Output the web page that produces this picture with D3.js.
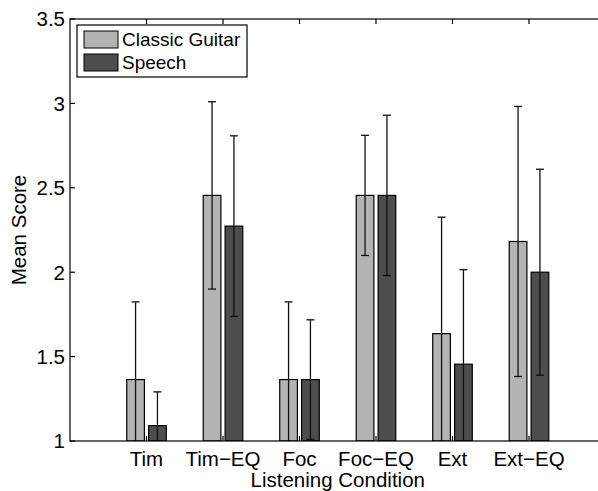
<html>
  <head>
    <style>
      body { margin: 0; background: #fff; }
      text { font-family: "Liberation Sans", Arial, Helvetica, sans-serif; fill: #000; }
    </style>
  </head>
  <body>
    <script src="https://d3js.org/d3.v7.min.js"></script>
    <script>
      // DATA
      const categories = ["Tim", "Tim\u2212EQ", "Foc", "Foc\u2212EQ", "Ext", "Ext\u2212EQ"];
      const guitarMean = [1.364, 2.455, 1.364, 2.455, 1.636, 2.182];
      const speechMean = [1.091, 2.273, 1.364, 2.455, 1.455, 2.0];
      const guitarErr = [0.46, 0.555, 0.46, 0.356, 0.69, 0.8];
      const speechErr = [0.2, 0.535, 0.354, 0.475, 0.56, 0.61];
      const yTicks = [1, 1.5, 2, 2.5, 3, 3.5];
      const seriesNames = ["Classic Guitar", "Speech"];
      const seriesColors = ["#b3b3b3", "#4d4d4d"];

      const width = 598, height = 491;
      const mLeft = 70, mRight = 605.5, mTop = 19, mBottom = 441;

      const svg = d3.select("body").append("svg")
        .attr("width", width).attr("height", height);

      // scales: x in category units 0..7 like matlab's bar()
      const x = d3.scaleLinear().domain([0, 7]).range([mLeft, mRight]);
      const y = d3.scaleLinear().domain([1, 3.5]).range([mBottom, mTop]);

      const barOffset = 0.143, barWidth = 0.231;

      const series = [
        { name: seriesNames[0], color: seriesColors[0], mean: guitarMean, err: guitarErr, off: -barOffset },
        { name: seriesNames[1], color: seriesColors[1], mean: speechMean, err: speechErr, off: barOffset }
      ];

      svg.append("clipPath").attr("id", "plot")
        .append("rect").attr("x", mLeft).attr("y", mTop)
        .attr("width", mRight - mLeft).attr("height", mBottom - mTop);

      const plot = svg.append("g").attr("clip-path", "url(#plot)");

      // bars
      series.forEach(s => {
        plot.append("g").selectAll("rect")
          .data(s.mean)
          .enter().append("rect")
          .attr("x", (d, i) => x(i + 1 + s.off - barWidth / 2))
          .attr("width", x(barWidth) - x(0))
          .attr("y", d => y(d))
          .attr("height", d => y(1) - y(d))
          .attr("fill", s.color)
          .attr("stroke", "#000")
          .attr("stroke-width", 1.2);
      });

      // error bars
      const cap = 4;
      series.forEach(s => {
        const g = plot.append("g").attr("stroke", "#111").attr("stroke-width", 1.3);
        s.mean.forEach((m, i) => {
          const cx = x(i + 1 + s.off);
          const lo = m - s.err[i], hi = m + s.err[i];
          g.append("line").attr("x1", cx).attr("x2", cx)
            .attr("y1", y(lo)).attr("y2", y(hi));
          g.append("line").attr("x1", cx - cap).attr("x2", cx + cap)
            .attr("y1", y(hi)).attr("y2", y(hi));
          g.append("line").attr("x1", cx - cap).attr("x2", cx + cap)
            .attr("y1", y(lo)).attr("y2", y(lo));
        });
      });

      // axes box
      const tickLen = 5;
      const axisG = svg.append("g").attr("stroke", "#000").attr("stroke-width", 1.2).attr("fill", "none");
      axisG.append("rect").attr("x", mLeft).attr("y", mTop)
        .attr("width", mRight - mLeft).attr("height", mBottom - mTop);

      // y ticks (inside, both sides)
      yTicks.forEach(t => {
        axisG.append("line").attr("x1", mLeft).attr("x2", mLeft + tickLen)
          .attr("y1", y(t)).attr("y2", y(t));
        axisG.append("line").attr("x1", mRight).attr("x2", mRight - tickLen)
          .attr("y1", y(t)).attr("y2", y(t));
      });
      // x ticks (inside, top and bottom)
      categories.forEach((c, i) => {
        axisG.append("line").attr("x1", x(i + 1)).attr("x2", x(i + 1))
          .attr("y1", mBottom).attr("y2", mBottom - tickLen);
        axisG.append("line").attr("x1", x(i + 1)).attr("x2", x(i + 1))
          .attr("y1", mTop).attr("y2", mTop + tickLen);
      });

      // tick labels
      svg.append("g").selectAll("text")
        .data(yTicks).enter().append("text")
        .attr("x", mLeft - 5)
        .attr("y", d => y(d))
        .attr("dy", "0.36em")
        .attr("text-anchor", "end")
        .style("font-size", "20.5px")
        .text(d => d);

      svg.append("g").selectAll("text")
        .data(categories).enter().append("text")
        .attr("x", (d, i) => x(i + 1))
        .attr("y", 466)
        .attr("text-anchor", "middle")
        .style("font-size", "20.5px")
        .text(d => d);

      // axis titles
      svg.append("text")
        .attr("x", (mLeft + mRight) / 2).attr("y", 487)
        .attr("text-anchor", "middle")
        .style("font-size", "20.5px")
        .text("Listening Condition");

      svg.append("text")
        .attr("transform", `translate(26, ${(mTop + mBottom) / 2}) rotate(-90)`)
        .attr("text-anchor", "middle")
        .style("font-size", "20.5px")
        .text("Mean Score");

      // legend
      const legend = svg.append("g");
      legend.append("rect").attr("x", 77).attr("y", 25)
        .attr("width", 170).attr("height", 52)
        .attr("fill", "#fff").attr("stroke", "#000").attr("stroke-width", 1.2);
      series.forEach((s, i) => {
        legend.append("rect")
          .attr("x", 84).attr("y", 31 + i * 23)
          .attr("width", 34).attr("height", 17)
          .attr("fill", s.color).attr("stroke", "#000").attr("stroke-width", 1);
        legend.append("text")
          .attr("x", 122).attr("y", 46 + i * 23)
          .style("font-size", "19px")
          .text(s.name);
      });
    </script>
  </body>
</html>
